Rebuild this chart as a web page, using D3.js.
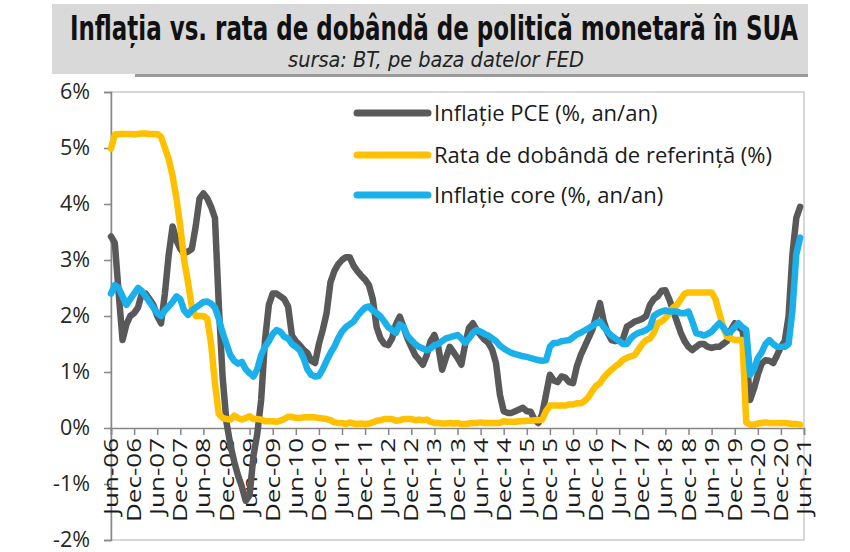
<!DOCTYPE html>
<html><head><meta charset="utf-8">
<script src="https://cdn.jsdelivr.net/npm/d3@7"></script>
<style>body{margin:0;background:#fff;} svg{display:block}</style>
</head><body>
<svg id="chart" width="850" height="552"></svg>
<script>
// ---------- DATA (monthly, first point Jun-2006) ----------
const titleText = "Inflația vs. rata de dobândă de politică monetară în SUA";
const subtitleText = "sursa: BT, pe baza datelor FED";
const seriesNames = ["Inflație PCE (%, an/an)", "Rata de dobândă de referință (%)", "Inflație core (%, an/an)"];
const tickLabels = ["Jun-06","Dec-06","Jun-07","Dec-07","Jun-08","Dec-08","Jun-09","Dec-09","Jun-10","Dec-10",
  "Jun-11","Dec-11","Jun-12","Dec-12","Jun-13","Dec-13","Jun-14","Dec-14","Jun-15","Dec-15",
  "Jun-16","Dec-16","Jun-17","Dec-17","Jun-18","Dec-18","Jun-19","Dec-19","Jun-20","Dec-20","Jun-21"];
const yTickValues = [-2, -1, 0, 1, 2, 3, 4, 5, 6];

const pce = [
  3.42,3.3,2.4,1.57,1.85,2.0,2.05,2.15,2.4,2.4,2.3,2.2,2.0,1.87,2.4,3.1,3.6,3.35,3.2,3.12,
  3.15,3.2,3.6,4.1,4.19,4.1,3.95,3.75,2.2,0.9,0.1,-0.3,-0.6,-0.85,-1.05,-1.3,-1.2,-0.5,-0.1,0.5,
  1.57,2.2,2.4,2.4,2.35,2.3,2.17,1.65,1.55,1.48,1.4,1.34,1.2,1.16,1.5,1.75,2.05,2.6,2.8,2.92,
  3.0,3.05,3.05,2.9,2.8,2.72,2.65,2.55,2.3,1.8,1.6,1.5,1.48,1.6,1.85,1.99,1.8,1.6,1.45,1.3,
  1.22,1.13,1.3,1.55,1.66,1.45,1.04,1.25,1.45,1.35,1.25,1.13,1.5,1.79,1.87,1.75,1.66,1.58,1.52,1.4,
  1.16,0.6,0.3,0.27,0.27,0.3,0.33,0.36,0.3,0.29,0.15,0.09,0.25,0.6,0.95,0.85,0.82,0.92,0.9,0.82,
  0.8,1.1,1.3,1.45,1.6,1.75,2.0,2.23,1.9,1.7,1.57,1.55,1.57,1.6,1.81,1.85,1.9,1.92,1.95,2.0,
  2.2,2.3,2.35,2.45,2.46,2.3,2.1,1.9,1.7,1.55,1.45,1.39,1.45,1.5,1.5,1.45,1.43,1.45,1.45,1.5,
  1.55,1.75,1.87,1.8,1.75,1.3,0.5,0.7,0.95,1.15,1.21,1.2,1.16,1.3,1.45,1.55,2.0,3.1,3.75,3.95
];
const rate = [
  4.99,5.24,5.25,5.25,5.25,5.25,5.24,5.25,5.26,5.26,5.25,5.25,5.25,5.2,5.0,4.8,4.5,4.1,3.6,3.0,
  2.6,2.15,2.0,2.0,2.0,1.95,1.5,0.8,0.25,0.18,0.16,0.15,0.22,0.18,0.15,0.18,0.21,0.16,0.16,0.15,
  0.12,0.12,0.12,0.11,0.13,0.16,0.2,0.2,0.18,0.18,0.19,0.19,0.19,0.19,0.18,0.17,0.16,0.14,0.1,0.09,
  0.09,0.07,0.1,0.08,0.07,0.08,0.07,0.08,0.1,0.13,0.14,0.16,0.16,0.16,0.13,0.14,0.16,0.16,0.16,0.14,
  0.15,0.14,0.15,0.11,0.09,0.09,0.08,0.08,0.09,0.08,0.09,0.07,0.07,0.08,0.09,0.09,0.1,0.09,0.09,0.09,
  0.09,0.09,0.12,0.11,0.11,0.11,0.12,0.12,0.13,0.13,0.14,0.14,0.15,0.3,0.4,0.4,0.4,0.4,0.4,0.42,
  0.42,0.44,0.44,0.48,0.55,0.66,0.75,0.8,0.9,0.98,1.04,1.1,1.15,1.22,1.25,1.28,1.3,1.4,1.5,1.57,
  1.6,1.7,1.87,1.9,1.96,2.05,2.15,2.2,2.3,2.4,2.42,2.42,2.42,2.42,2.42,2.42,2.42,2.3,2.05,1.8,
  1.63,1.6,1.57,1.57,1.57,0.1,0.06,0.06,0.08,0.09,0.1,0.09,0.09,0.09,0.09,0.09,0.08,0.07,0.07,0.06
];
const core = [
  2.4,2.55,2.5,2.35,2.2,2.3,2.4,2.5,2.45,2.35,2.25,2.15,2.05,2.0,2.1,2.17,2.25,2.35,2.3,2.1,
  2.02,2.1,2.15,2.2,2.25,2.26,2.22,2.15,1.95,1.7,1.5,1.3,1.2,1.15,1.18,1.05,0.98,0.92,1.05,1.3,
  1.45,1.55,1.68,1.75,1.72,1.63,1.6,1.5,1.45,1.39,1.25,1.05,0.95,0.92,0.93,1.05,1.2,1.34,1.45,1.6,
  1.72,1.8,1.85,1.9,2.0,2.08,2.15,2.17,2.1,2.05,1.99,1.9,1.8,1.75,1.7,1.85,1.8,1.65,1.57,1.5,
  1.45,1.42,1.39,1.42,1.48,1.5,1.55,1.6,1.62,1.64,1.66,1.6,1.52,1.6,1.7,1.75,1.72,1.68,1.65,1.6,
  1.55,1.47,1.42,1.38,1.34,1.32,1.3,1.28,1.27,1.25,1.23,1.21,1.2,1.21,1.45,1.52,1.52,1.55,1.56,1.57,
  1.62,1.67,1.7,1.74,1.78,1.82,1.87,1.9,1.8,1.72,1.65,1.6,1.55,1.5,1.5,1.6,1.66,1.7,1.72,1.75,
  1.8,2.0,2.05,2.08,2.1,2.08,2.08,2.08,2.05,2.05,2.08,1.9,1.69,1.68,1.65,1.68,1.72,1.8,1.87,1.8,
  1.7,1.72,1.8,1.87,1.8,1.75,0.95,1.05,1.25,1.35,1.5,1.57,1.5,1.45,1.45,1.45,1.5,2.1,3.1,3.4
];
const colors = ["#595959", "#FFC000", "#1AB0EC"];

// ---------- LAYOUT ----------
const svg = d3.select("#chart");
const L = 111, R = 804, T = 92, B = 540;
const x = d3.scaleLinear().domain([0, 180]).range([L, R]);
const y = d3.scaleLinear().domain([-2, 6]).range([B, T]);

function fitText(sel, targetWidth, baseSize) {
  sel.attr("font-size", baseSize);
  const w = sel.node().getComputedTextLength();
  if (w > 0) sel.attr("font-size", (baseSize * targetWidth / w).toFixed(2));
}

// title box
svg.append("rect").attr("x", 135).attr("y", 72).attr("width", 673).attr("height", 5).attr("fill", "#9a9a9a");
svg.append("rect").attr("x", 52).attr("y", 4).attr("width", 756).attr("height", 70).attr("fill", "#d9d9d9");
const tt = svg.append("text").attr("x", 0).attr("y", 0).attr("text-anchor", "middle")
  .attr("transform", "translate(434,40) scale(1,1.3)")
  .attr("font-family", "'Liberation Sans Narrow','DejaVu Sans Condensed',sans-serif")
  .attr("font-weight", "bold").attr("fill", "#111").text(titleText);
fitText(tt, 728, 31);
const st = svg.append("text").attr("x", 436).attr("y", 67).attr("text-anchor", "middle")
  .attr("font-family", "'Liberation Sans Narrow','DejaVu Sans Condensed',sans-serif")
  .attr("font-style", "italic").attr("fill", "#222").text(subtitleText);
fitText(st, 296, 21);

// plot border
svg.append("rect").attr("x", L).attr("y", T).attr("width", R - L).attr("height", B - T)
  .attr("fill", "none").attr("stroke", "#bfbfbf").attr("stroke-width", 1.2);

// y axis
const yAxis = d3.axisLeft(y).tickValues(yTickValues).tickSize(7).tickPadding(14)
  .tickFormat(d => d + "%");
const gy = svg.append("g").attr("transform", `translate(${L},0)`).call(yAxis);
gy.selectAll("path,line").attr("stroke", "#868686").attr("stroke-width", 1.5);
gy.selectAll("text").attr("font-family", "'Open Sans',sans-serif").attr("font-size", 21.5).attr("fill", "#262626");

// x axis at 0%
const xTicks = tickLabels.map((d, i) => i * 6);
const xAxis = d3.axisBottom(x).tickValues(xTicks).tickSize(7).tickFormat("");
const gx = svg.append("g").attr("transform", `translate(0,${y(0)})`).call(xAxis);
gx.selectAll("path,line").attr("stroke", "#868686").attr("stroke-width", 1.5);
svg.append("g").selectAll("text").data(tickLabels).join("text")
  .attr("transform", (d, i) => `translate(${x(i * 6)},${y(0) + 10}) rotate(-90) scale(1.3,1)`)
  .attr("text-anchor", "end").attr("dy", "0.35em")
  .attr("font-family", "'Open Sans',sans-serif").attr("font-size", 20).attr("fill", "#1a1a1a")
  .text(d => d);

// lines
const line = d3.line().x((d, i) => x(i)).y(d => y(d)).curve(d3.curveLinear);
[pce, rate, core].forEach((s, k) => {
  svg.append("path").datum(s).attr("d", line).attr("fill", "none")
    .attr("stroke", colors[k]).attr("stroke-width", 6.5)
    .attr("stroke-linejoin", "round").attr("stroke-linecap", "round");
});

// legend
const legY = [113, 155, 195];
seriesNames.forEach((n, k) => {
  svg.append("line").attr("x1", 357).attr("x2", 428).attr("y1", legY[k]).attr("y2", legY[k])
    .attr("stroke", colors[k]).attr("stroke-width", 7).attr("stroke-linecap", "round");
  svg.append("text").attr("x", 434).attr("y", legY[k]).attr("dy", "0.35em")
    .attr("font-family", "'Open Sans',sans-serif").attr("font-size", 22).attr("fill", "#1a1a1a")
    .text(n);
});
</script>
</body></html>
